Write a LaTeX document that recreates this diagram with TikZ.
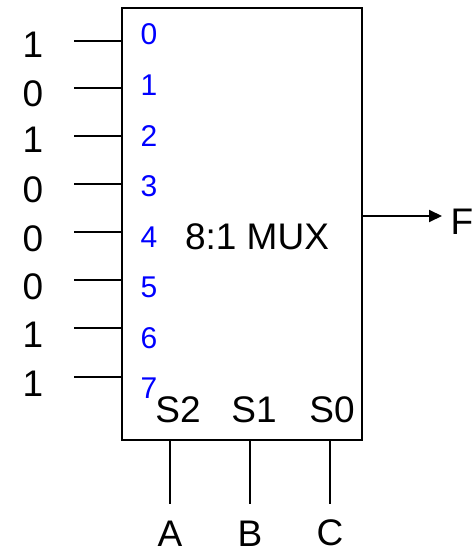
\documentclass[tikz,border=0pt]{standalone}
\usepackage{fontspec}
\setmainfont{Liberation Sans}
\usetikzlibrary{arrows.meta}
\begin{document}
\begin{tikzpicture}[x=1pt,y=-1pt,line width=2pt,
  big/.style={inner sep=0pt,font=\fontsize{37}{42}\selectfont},
  pin/.style={inner sep=0pt,text=blue,font=\fontsize{30}{34}\selectfont},
  wire/.style={line width=2pt}]
\useasboundingbox (0,0) rectangle (473,553);
\node[draw,line width=2pt,minimum width=240pt,minimum height=432pt,inner sep=0pt] (box) at (242,224) {};
\node[big] (mux) at (257,237) {8:1 MUX};
% inputs
\foreach \i/\v/\ly/\lab/\py in {0/1/41/45/34,1/0/88/94/85,2/1/136/140/136,3/0/184/190/186,4/0/232/239/237,5/0/280/287/287,6/1/328/335/338,7/1/377/384/388}{
  \node[big] (v\i) at (33,\lab) {\v};
  \node[pin] (p\i) at (149,\py) {\i};
}
\foreach \i/\ly in {0/41,1/88,2/136,3/184,4/232,5/280,6/328,7/377}{
  \coordinate (e\i) at (122,\ly);
  \coordinate (s\i) at (74,\ly);
  \draw[wire] (s\i) -- (e\i);
}
% selects
\node[big] (s2) at (178,410) {S2};
\node[big] (s1) at (254,410) {S1};
\node[big] (s0) at (332,410) {S0};
\coordinate (ta) at (170,440);
\coordinate (tb) at (250,440);
\coordinate (tc) at (330,440);
\coordinate (ba) at (170,504);
\coordinate (bb) at (250,504);
\coordinate (bc) at (330,504);
\node[big] (A) at (170,534) {A};
\node[big] (B) at (250,534) {B};
\node[big] (C) at (330,533) {C};
\draw[wire] (ta) -- (ba);
\draw[wire] (tb) -- (bb);
\draw[wire] (tc) -- (bc);
% output
\coordinate (o) at (362,216);
\coordinate (oe) at (442,216);
\node[big] (F) at (462,222) {F};
\draw[wire,-{Triangle[length=13pt,width=12pt]}] (o) -- (oe);
\end{tikzpicture}
\end{document}
